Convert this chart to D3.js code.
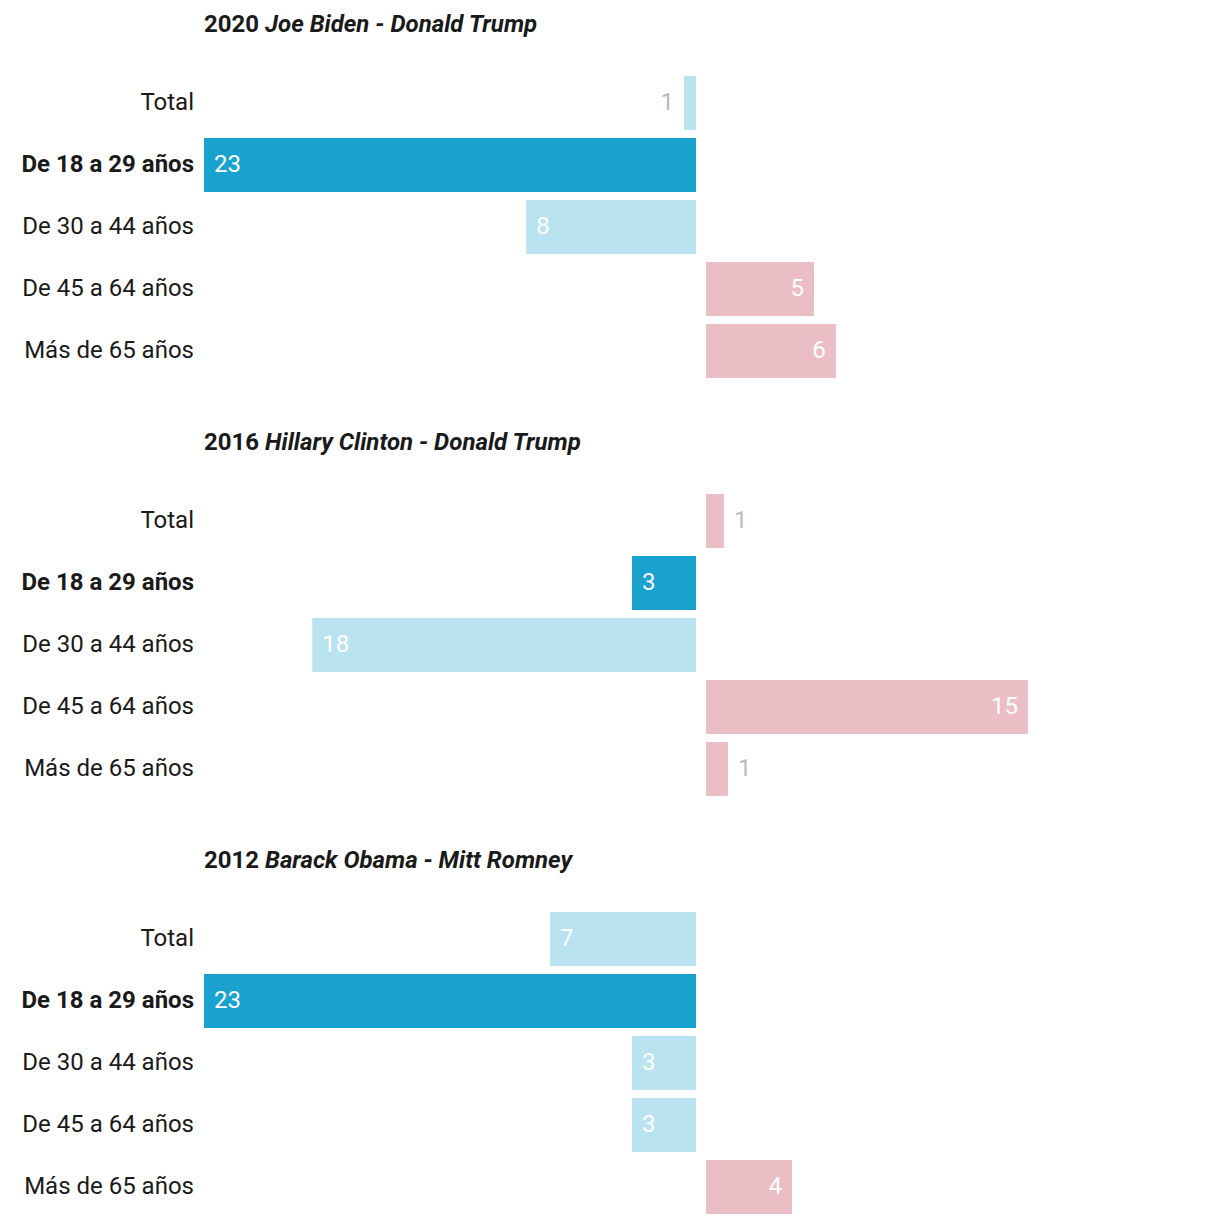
<!DOCTYPE html>
<html>
<head>
<meta charset="utf-8">
<script src="https://cdn.jsdelivr.net/npm/d3@7"></script>
<style>
  html, body { margin: 0; padding: 0; background: #fff; }
  svg { display: block; font-family: Roboto, "Noto Sans", sans-serif; }
</style>
</head>
<body>
<svg id="chart" width="1220" height="1224"></svg>
<script>
const categories = ["Total", "De 18 a 29 años", "De 30 a 44 años", "De 45 a 64 años", "Más de 65 años"];
const highlight = "De 18 a 29 años";
const years = ["2020", "2016", "2012"];
const demCandidates = ["Joe Biden", "Hillary Clinton", "Barack Obama"];
const repCandidates = ["Donald Trump", "Donald Trump", "Mitt Romney"];
// positive = Democratic lead (left), negative = Republican lead (right), percentage points
const margins2020 = [0.56, 23, 7.94, -5.05, -6.07];
const margins2016 = [-0.84, 2.99, 17.94, -15.05, -1.03];
const margins2012 = [6.82, 23, 2.99, 2.99, -4.02];
const allMargins = [margins2020, margins2016, margins2012];

const svg = d3.select("#chart");
const leftAxis = 696, rightAxis = 706, barStart = 204;
const panelH = 418;

const x = d3.scaleLinear().domain([0, 23]).range([0, leftAxis - barStart]);
const y = d3.scaleBand().domain(categories).range([72, 382]).paddingInner(8 / 62).paddingOuter(4 / 62);

const colDemHi = "#1aa2cf", colDem = "#b9e3f0", colRep = "#ebbdc5";

years.forEach((yr, i) => {
  const g = svg.append("g").attr("transform", `translate(0,${i * panelH})`);
  const t = g.append("text")
    .attr("x", barStart).attr("y", 32)
    .attr("font-size", 24).attr("font-weight", 700).attr("fill", "#1a1a1a");
  t.append("tspan").text(yr + " ");
  t.append("tspan").attr("font-style", "italic").text(demCandidates[i] + " - " + repCandidates[i]);

  const rows = categories.map((c, j) => ({ cat: c, v: allMargins[i][j] }));

  g.selectAll("text.cat").data(rows).join("text")
    .attr("class", "cat")
    .attr("x", 194).attr("y", d => y(d.cat) + y.bandwidth() / 2 + 7)
    .attr("text-anchor", "end")
    .attr("font-size", 24)
    .attr("font-weight", d => d.cat === highlight ? 700 : 400)
    .attr("fill", "#1a1a1a")
    .text(d => d.cat);

  g.selectAll("rect.bar").data(rows).join("rect")
    .attr("class", "bar")
    .attr("x", d => d.v >= 0 ? leftAxis - x(d.v) : rightAxis)
    .attr("y", d => y(d.cat))
    .attr("width", d => x(Math.abs(d.v)))
    .attr("height", y.bandwidth())
    .attr("fill", d => d.v >= 0 ? (d.cat === highlight ? colDemHi : colDem) : colRep);

  g.selectAll("text.val").data(rows).join("text")
    .attr("class", "val")
    .attr("y", d => y(d.cat) + y.bandwidth() / 2 + 7)
    .attr("font-size", 24)
    .attr("font-weight", 400)
    .each(function(d) {
      const w = x(Math.abs(d.v));
      const inside = w > 40;
      const sel = d3.select(this);
      if (d.v >= 0) {
        if (inside) sel.attr("x", leftAxis - w + 10).attr("text-anchor", "start").attr("fill", "#fff");
        else sel.attr("x", leftAxis - w - 10).attr("text-anchor", "end").attr("fill", "#bbbbbb");
      } else {
        if (inside) sel.attr("x", rightAxis + w - 10).attr("text-anchor", "end").attr("fill", "#fff");
        else sel.attr("x", rightAxis + w + 10).attr("text-anchor", "start").attr("fill", "#bbbbbb");
      }
    })
    .text(d => Math.round(Math.abs(d.v)));
});
</script>
</body>
</html>
